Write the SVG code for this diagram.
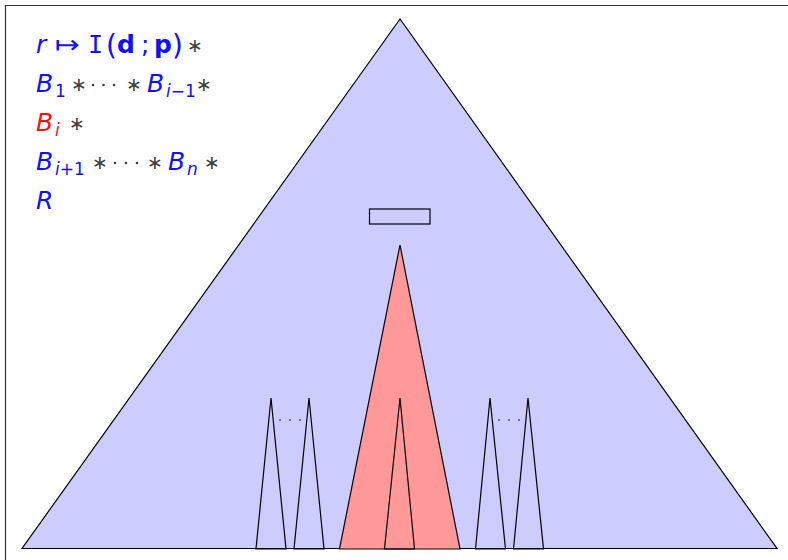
<svg xmlns="http://www.w3.org/2000/svg" width="788" height="560" viewBox="0 0 788 560">
<style>
.tri{stroke:#000;stroke-width:1.2;stroke-linejoin:miter}
.blue{fill:#ccccff}
.red{fill:#ff9999}
.none{fill:none}
.t{font-family:"DejaVu Sans",sans-serif;font-size:25px}
.v{font-style:italic;fill:#1010ff}
.vr{font-style:italic;fill:#ff1010}
.sub{font-size:17px}
.up{font-style:normal}
.op{fill:#404040;font-size:19px}
.bl{fill:#1010ff}
.dot{fill:#000}
.cd{fill:#404040}
</style>
<rect x="0" y="0" width="788" height="560" fill="#fff"/>
<path d="M5.5 560 V5.5 H788" fill="none" stroke="#333" stroke-width="1.2"/>
<g id="tree">
<polygon class="tri blue" points="400,19 22,548.5 777,548.5"/>
</g>
<g id="box">
<rect x="369.5" y="209" width="60.5" height="15" fill="none" stroke="#000" stroke-width="1.2"/>
</g>
<g id="subtree-i">
<polygon class="tri red" points="400,245 339.5,549 460,549"/>
<polygon class="tri none" points="400,398 384.5,549 414.5,549"/>
</g>
<g id="left-subtrees">
<polygon class="tri none" points="271,398 256,549 286,549"/>
<polygon class="tri none" points="309,398 294,549 324,549"/>
<circle class="dot" cx="280" cy="420" r="0.8"/>
<circle class="dot" cx="290" cy="420" r="0.8"/>
<circle class="dot" cx="300" cy="420" r="0.8"/>
</g>
<g id="right-subtrees">
<polygon class="tri none" points="490,398 475.5,549 505.5,549"/>
<polygon class="tri none" points="528,398 513.5,549 543.5,549"/>
<circle class="dot" cx="499" cy="420" r="0.8"/>
<circle class="dot" cx="509" cy="420" r="0.8"/>
<circle class="dot" cx="519" cy="420" r="0.8"/>
</g>
<g id="formula" class="t">
<text x="36" y="53" class="v">r</text>
<text x="55" y="53" class="bl" textLength="25" lengthAdjust="spacingAndGlyphs">↦</text>
<text x="88" y="53" class="bl" style="font-family:'DejaVu Sans Mono',monospace">I</text>
<text x="106" y="55" class="bl" style="font-size:28px">(</text>
<text x="117" y="53" class="bl" style="font-weight:bold">d</text>
<text x="141" y="53" class="bl">;</text>
<text x="154" y="53" class="bl" style="font-weight:bold">p</text>
<text x="172" y="55" class="bl" style="font-size:28px">)</text>
<text x="187" y="52" class="op">∗</text>

<text x="36" y="92" class="v">B<tspan class="sub up" dy="5" x="55">1</tspan></text>
<text x="71" y="91" class="op">∗</text>
<circle class="cd" cx="93" cy="85" r="1.3"/>
<circle class="cd" cx="103.5" cy="85" r="1.3"/>
<circle class="cd" cx="114" cy="85" r="1.3"/>
<text x="126" y="91" class="op">∗</text>
<text x="147" y="92" class="v">B<tspan class="sub" dy="5" x="166">i</tspan><tspan class="sub up">−1</tspan></text>
<text x="196" y="91" class="op">∗</text>

<text x="36" y="131" class="vr">B<tspan class="sub" dy="5" x="55">i</tspan></text>
<text x="69" y="130" class="op">∗</text>

<text x="36" y="170" class="v">B<tspan class="sub" dy="5" x="55">i</tspan><tspan class="sub up">+1</tspan></text>
<text x="92" y="169" class="op">∗</text>
<circle class="cd" cx="115" cy="163" r="1.3"/>
<circle class="cd" cx="126" cy="163" r="1.3"/>
<circle class="cd" cx="137" cy="163" r="1.3"/>
<text x="147" y="169" class="op">∗</text>
<text x="168" y="170" class="v">B<tspan class="sub" dy="5" x="187">n</tspan></text>
<text x="204" y="169" class="op">∗</text>

<text x="36" y="209" class="v">R</text>
</g>
</svg>
